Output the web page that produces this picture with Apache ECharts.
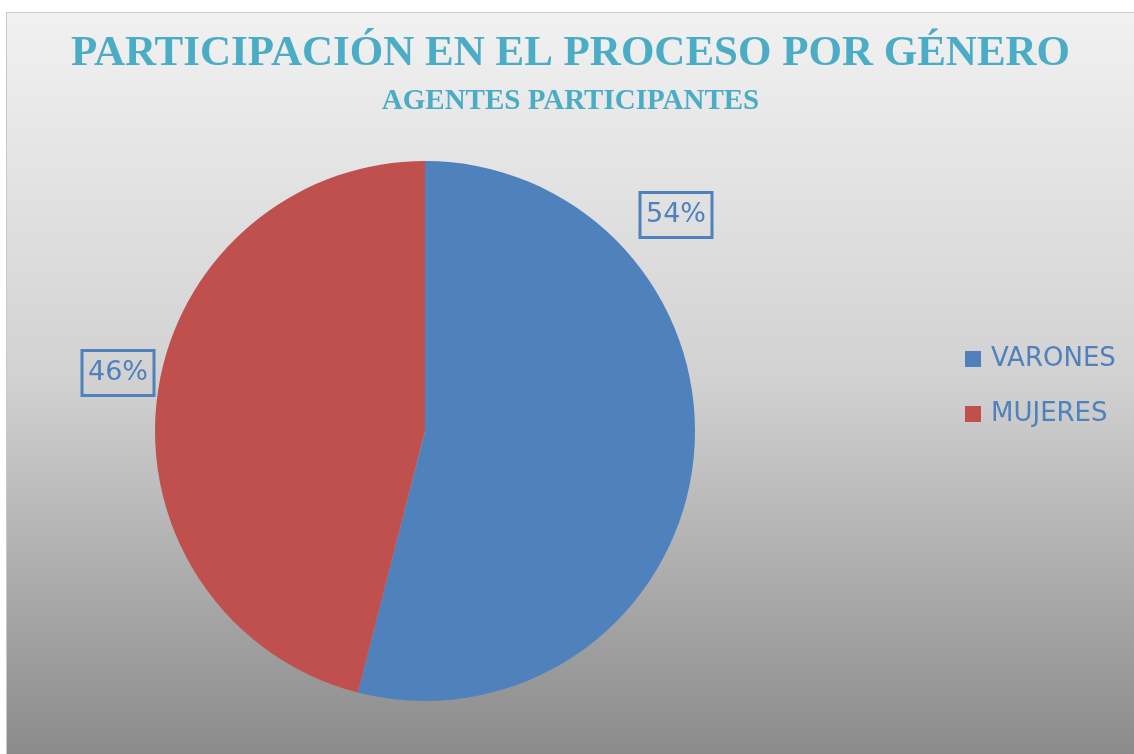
<!DOCTYPE html>
<html>
<head>
<meta charset="utf-8">
<script src="https://cdn.jsdelivr.net/npm/echarts@6/dist/echarts.min.js"></script>
<style>
  html, body { margin: 0; padding: 0; background: #ffffff; }
  #pie-genero {
    position: absolute;
    left: 6px;
    top: 12px;
    width: 1127px;
    height: 741px;
    border: 1px solid #c9c9c9;
  }
</style>
</head>
<body>
<div id="pie-genero"></div>
<script>
// participacion por genero, valores en porcentaje
var categorias = ['VARONES', 'MUJERES'];
var valores = [54, 46];
var colores = ['#4f81bd', '#c0504d'];

var pie_chartDom = document.getElementById('pie-genero');
var pie_myChart = echarts.init(pie_chartDom);
var pie_option;

var serieDatos = categorias.map(function (nombre, i) {
  return { name: nombre, value: valores[i], itemStyle: { color: colores[i] } };
});

pie_option = {
  backgroundColor: {
    type: 'linear', x: 0, y: 0, x2: 0, y2: 1,
    colorStops: [
      { offset: 0, color: '#f1f1f1' },
      { offset: 0.5, color: '#d1d1d1' },
      { offset: 0.86, color: '#9e9e9e' },
      { offset: 1, color: '#8b8b8b' }
    ]
  },
  title: [
    {
      text: 'PARTICIPACIÓN EN EL PROCESO POR GÉNERO',
      left: 'center',
      top: 14,
      textStyle: {
        fontFamily: 'Liberation Serif',
        fontWeight: 'bold',
        fontSize: 43,
        color: '#4bacc6'
      }
    },
    {
      text: 'AGENTES PARTICIPANTES',
      left: 'center',
      top: 69,
      textStyle: {
        fontFamily: 'Liberation Serif',
        fontWeight: 'bold',
        fontSize: 29,
        color: '#4bacc6'
      }
    }
  ],
  legend: {
    orient: 'vertical',
    left: 953,
    top: 328,
    icon: 'rect',
    itemWidth: 16,
    itemHeight: 16,
    itemGap: 29,
    selectedMode: false,
    data: categorias,
    textStyle: {
      fontFamily: 'DejaVu Sans',
      fontSize: 26,
      color: '#4f81bd',
      padding: [0, 0, 0, 5]
    }
  },
  series: [
    {
      name: 'Genero',
      type: 'pie',
      center: [418, 418],
      radius: 270,
      startAngle: 90,
      clockwise: true,
      silent: true,
      itemStyle: { borderWidth: 0 },
      label: {
        show: true,
        formatter: '{c}%',
        fontFamily: 'DejaVu Sans',
        fontSize: 27,
        color: '#4f81bd',
        borderColor: '#4f81bd',
        borderWidth: 1.5,
        padding: [10, 6, 8, 6],
        backgroundColor: 'transparent'
      },
      labelLine: { show: false },
      labelLayout: function (params) {
        // etiquetas fuera de la torta, como en la hoja original
        if (params.dataIndex === 0) {
          return { x: 418 + 251, y: 418 - 216, align: 'center', verticalAlign: 'middle' };
        }
        return { x: 418 - 307, y: 418 - 58, align: 'center', verticalAlign: 'middle' };
      },
      data: serieDatos
    }
  ]
};

if (pie_option && typeof pie_option === 'object') {
  pie_myChart.setOption(pie_option);
}
</script>
</body>
</html>
